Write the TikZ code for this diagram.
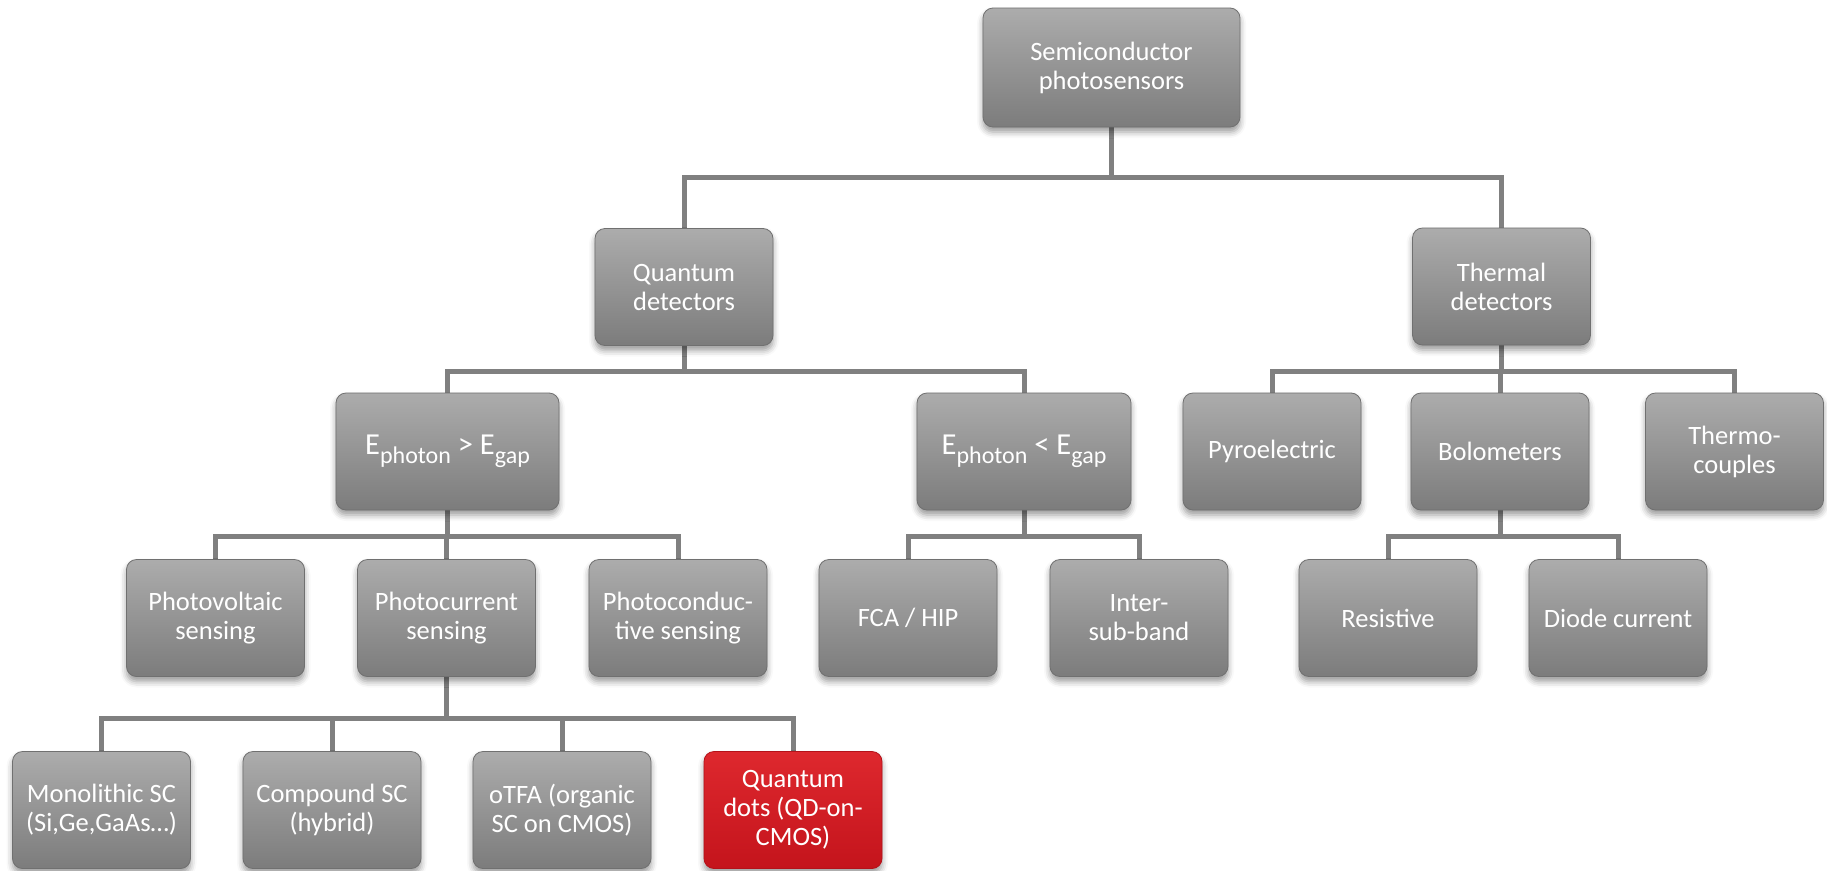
\documentclass[tikz,border=0pt]{standalone}
\usepackage{fontspec}
\setmainfont{Carlito}
\usetikzlibrary{shadows.blur,backgrounds}
\definecolor{boxtop}{RGB}{172,172,172}
\definecolor{boxmid}{RGB}{148,148,148}
\definecolor{boxbot}{RGB}{124,124,124}
\definecolor{boxedge}{RGB}{112,112,112}
\definecolor{redtop}{RGB}{222,40,46}
\definecolor{redmid}{RGB}{210,26,34}
\definecolor{redbot}{RGB}{196,20,28}
\definecolor{rededge}{RGB}{180,18,26}
\definecolor{linegray}{RGB}{128,128,128}
\newcommand{\sbs}[1]{\raisebox{-0.3em}{\fontsize{24}{24}\selectfont #1}}
\tikzset{
  box/.style={rounded corners=10pt, minimum width=178pt, minimum height=117pt,
    top color=boxtop, middle color=boxmid, bottom color=boxbot, draw=boxedge, line width=0.8pt,
    text=white, align=center, font=\fontsize{26.5}{29}\selectfont, inner sep=3pt,
    blur shadow={shadow xshift=0pt, shadow yshift=-5pt, shadow blur radius=6pt, shadow opacity=40}},
  ebox/.style={box, font=\fontsize{30.5}{32}\selectfont},
  redbox/.style={box, top color=redtop, middle color=redmid, bottom color=redbot, draw=rededge},
  link/.style={draw=linegray, line width=5pt},
}
\begin{document}
\begin{tikzpicture}[x=1pt,y=-1pt]
\useasboundingbox (0,0) rectangle (1827,870);
% level 0
\node[box, minimum width=257pt, minimum height=119pt] (top) at (1111.5,67.5) {Semiconductor\\photosensors};
% level 1
\node[box] (qd) at (684,287) {Quantum\\detectors};
\node[box] (td) at (1501.5,286.5) {Thermal\\detectors};
% level 2
\node[ebox, minimum width=223pt] (eg) at (447.5,451.5) {E\sbs{photon} > E\sbs{gap}};
\node[ebox, minimum width=214pt] (el) at (1024,451.5) {E\sbs{photon} < E\sbs{gap}};
\node[box] (pyro) at (1272,451.5) {Pyroelectric};
\node[box] (bolo) at (1500,451.5) {Bolometers};
\node[box] (thermo) at (1734.5,451.5) {Thermo-\\couples};
% level 3
\node[box] (pv) at (215.5,618) {Photovoltaic\\sensing};
\node[box] (pc) at (446.5,618) {Photocurrent\\sensing};
\node[box] (pcd) at (678,618) {Photoconduc-\\tive sensing};
\node[box] (fca) at (908,618) {FCA / HIP};
\node[box] (isb) at (1139,618) {Inter-\\sub-band};
\node[box] (res) at (1388,618) {Resistive};
\node[box] (diode) at (1618,618) {Diode current};
% level 4
\node[box] (mono) at (101.5,810) {Monolithic SC\\(Si,Ge,GaAs…)};
\node[box] (comp) at (332,810) {Compound SC\\(hybrid)};
\node[box] (otfa) at (562,810) {oTFA (organic\\SC on CMOS)};
\node[redbox] (qdots) at (793,810) {Quantum\\dots (QD-on-\\CMOS)};
% connectors
\begin{scope}[on background layer]
\foreach \c in {qd,td} \draw[link] (top.south) -- (top.south |- 0,177) -| (\c.north);
\foreach \c in {eg,el} \draw[link] (qd.south) -- (qd.south |- 0,371) -| (\c.north);
\foreach \c in {pyro,bolo,thermo} \draw[link] (td.south) -- (td.south |- 0,371) -| (\c.north);
\foreach \c in {pv,pc,pcd} \draw[link] (eg.south) -- (eg.south |- 0,536) -| (\c.north);
\foreach \c in {fca,isb} \draw[link] (el.south) -- (el.south |- 0,536) -| (\c.north);
\foreach \c in {res,diode} \draw[link] (bolo.south) -- (bolo.south |- 0,536) -| (\c.north);
\foreach \c in {mono,comp,otfa,qdots} \draw[link] (pc.south) -- (pc.south |- 0,718) -| (\c.north);
\end{scope}
\end{tikzpicture}
\end{document}
